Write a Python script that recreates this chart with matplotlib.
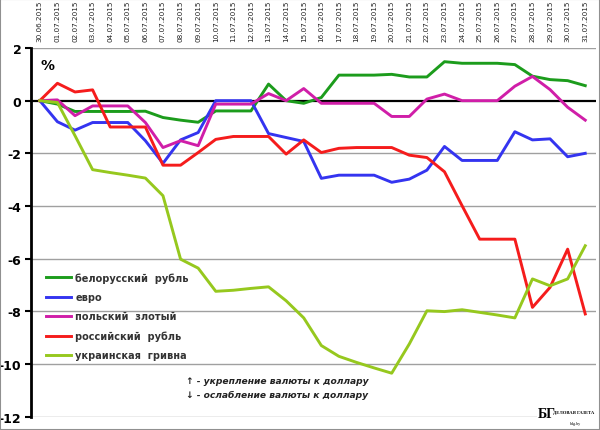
import numpy as np
import matplotlib
matplotlib.use("Agg")
import matplotlib.pyplot as plt
from matplotlib.patches import Rectangle

plt.rcParams['font.family'] = ['DejaVu Sans']

dates = ["30.06.2015"] + ["%02d.07.2015" % d for d in range(1, 32)]

byr = [0, -0.13, -0.41, -0.41, -0.41, -0.41, -0.40, -0.64, -0.74, -0.82,
       -0.39, -0.39, -0.39, 0.63, 0.0, -0.1, 0.12, 0.97, 0.97, 0.97,
       1.0, 0.9, 0.9, 1.48, 1.42, 1.42, 1.42, 1.37, 0.93, 0.8, 0.76, 0.57]
eur = [0, -0.8, -1.12, -0.83, -0.83, -0.83, -1.52, -2.38, -1.49, -1.21,
       0, 0, 0, -1.25, -1.4, -1.55, -2.95, -2.83, -2.83, -2.83,
       -3.1, -2.98, -2.64, -1.74, -2.27, -2.27, -2.27, -1.18, -1.49, -1.45, -2.13, -2.0]
pln = [0, 0.03, -0.57, -0.2, -0.2, -0.2, -0.83, -1.78, -1.52, -1.71,
       -0.13, -0.13, -0.13, 0.27, 0, 0.46, -0.1, -0.1, -0.1, -0.1,
       -0.6, -0.6, 0.06, 0.25, 0, 0, 0, 0.55, 0.92, 0.42, -0.25, -0.74]
rub = [0, 0.66, 0.33, 0.41, -1.0, -1.0, -1.0, -2.45, -2.45, -1.97,
       -1.47, -1.36, -1.36, -1.36, -2.03, -1.49, -1.97, -1.81, -1.78, -1.78,
       -1.78, -2.07, -2.16, -2.7, -3.99, -5.26, -5.26, -5.26, -7.85, -7.09, -5.64, -8.1]
uah = [0, -0.07, -1.33, -2.62, -2.73, -2.83, -2.94, -3.61, -6.02, -6.36,
       -7.24, -7.2, -7.13, -7.07, -7.6, -8.25, -9.3, -9.71, -9.94, -10.15,
       -10.35, -9.24, -7.98, -8.01, -7.94, -8.04, -8.14, -8.25, -6.77, -7.03, -6.77, -5.51]

names = ["белорусский  рубль", "евро", "польский  злотый",
         "российский  рубль", "украинская  гривна"]
colors = ["#1c9c1c", "#3434f0", "#d01ea8", "#f51c1c", "#96c81e"]

fig = plt.figure(figsize=(6, 4.31), dpi=100)
ax = fig.add_axes([0.0517, 0.031, 0.9413, 0.8553])

x = np.arange(len(dates))
for vals, name, c in zip([byr, eur, pln, rub, uah], names, colors):
    ax.plot(x, vals, color=c, lw=2.1, label=name)

ax.set_xlim(-0.5, len(dates) - 0.4)
ax.set_ylim(-12, 2)
ax.set_yticks(np.arange(-12, 3, 2))
ax.set_yticklabels([str(v) for v in range(-12, 3, 2)], fontweight='bold', fontsize=9)
for v in range(-12, 3, 2):
    if v != 0:
        ax.axhline(v, color='#a0a0a0', lw=1.0, zorder=0)
ax.axhline(0, color='black', lw=1.6, zorder=1)

ax.xaxis.tick_top()
ax.set_xticks(x)
ax.set_xticklabels(dates, rotation=90, fontsize=5.2, color='#222222')
ax.tick_params(axis='x', length=0, pad=5)
ax.tick_params(axis='y', direction='out', length=4, width=1.5, pad=3)

for s in ['top', 'right', 'bottom']:
    ax.spines[s].set_visible(False)
ax.spines['left'].set_linewidth(2)

ax.text(0.016, 0.955, "%", transform=ax.transAxes, fontsize=10,
        fontweight='bold', va='center')

leg = ax.legend(loc='upper left', bbox_to_anchor=(0.019, 0.402), frameon=False,
                fontsize=7, handlelength=2.6, handletextpad=0.45,
                labelspacing=0.95, borderaxespad=0)
for t in leg.get_texts():
    t.set_fontweight('bold')
    t.set_color('#333333')

ax.text(0.275, 0.092, "↑ - укрепление валюты к доллару", transform=ax.transAxes,
        fontsize=6.6, style='italic', fontweight='bold', color='#222222')
ax.text(0.275, 0.052, "↓ - ослабление валюты к доллару", transform=ax.transAxes,
        fontsize=6.6, style='italic', fontweight='bold', color='#222222')

# logo
fig.patches.append(Rectangle((0.895, 0.005), 0.1, 0.06, transform=fig.transFigure,
                             facecolor='white', edgecolor='none', zorder=1))
fig.text(0.896, 0.030, "БГ", fontsize=10, fontweight='bold', family='Liberation Serif')
fig.text(0.922, 0.042, "ДЕЛОВАЯ ГАЗЕТА", fontsize=3.3, family='Liberation Serif',
         fontweight='bold', va='center')
fig.text(0.948, 0.016, "bdg.by", fontsize=3.0, family='Liberation Serif', va='center')

fig.patches.append(Rectangle((0, 0), 1, 1, transform=fig.transFigure, fill=False,
                             edgecolor='#909090', lw=1.5, zorder=2))

fig.savefig("out.png", dpi=100)
